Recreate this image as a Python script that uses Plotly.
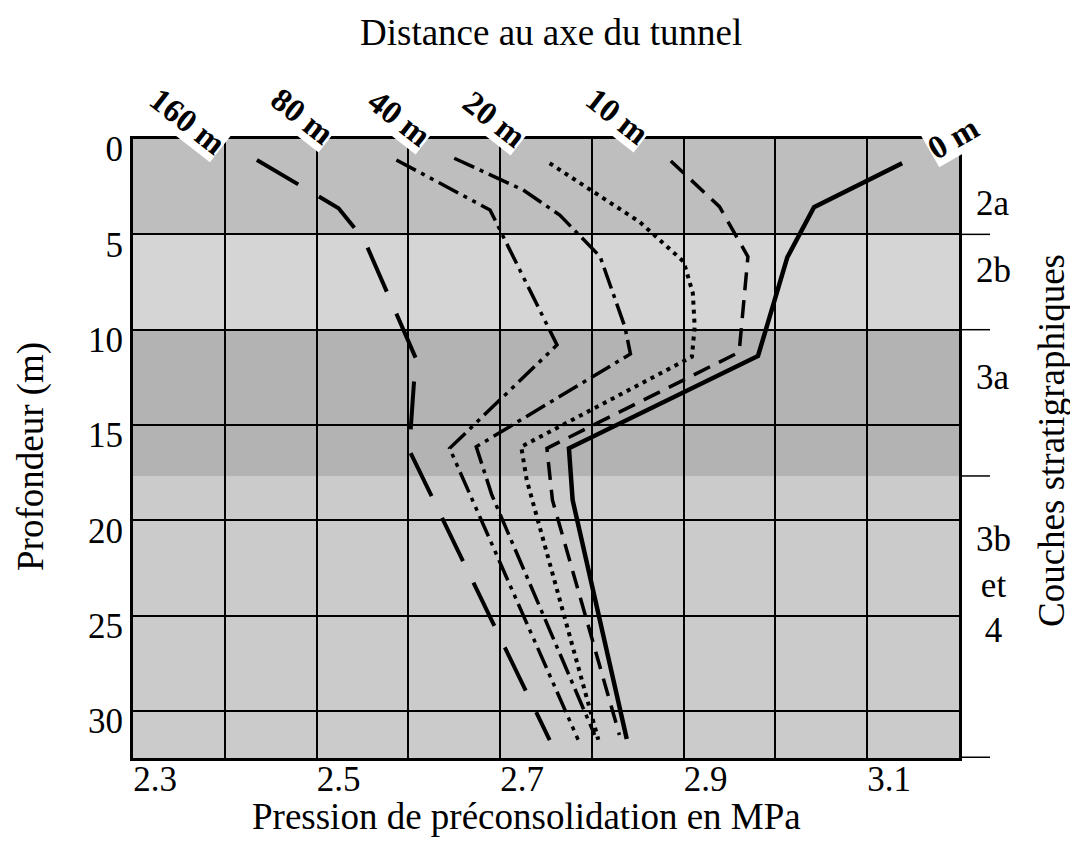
import plotly.graph_objects as go

# ---------------- data ----------------
distances = ["160 m", "80 m", "40 m", "20 m", "10 m", "0 m"]

p_160 = [2.435, 2.524, 2.552, 2.608, 2.601, 2.754]
z_160 = [1.10, 3.63, 5.30, 11.48, 16.31, 31.52]

p_80 = [2.587, 2.689, 2.762, 2.645, 2.785]
z_80 = [1.10, 3.72, 10.80, 16.22, 31.50]

p_40 = [2.650, 2.725, 2.765, 2.809, 2.836, 2.842, 2.674, 2.691, 2.803]
z_40 = [1.01, 2.67, 3.99, 6.17, 9.86, 11.27, 16.14, 18.67, 31.25]

p_20 = [2.754, 2.852, 2.900, 2.910, 2.912, 2.909, 2.723, 2.729, 2.807]
z_20 = [1.27, 4.35, 6.43, 8.09, 9.84, 11.42, 16.14, 17.88, 31.50]

p_10 = [2.886, 2.939, 2.970, 2.961, 2.958, 2.751, 2.757, 2.830]
z_10 = [1.15, 3.55, 6.17, 10.89, 11.24, 16.22, 18.93, 31.25]

p_0 = [3.138, 3.042, 3.013, 2.981, 2.775, 2.779, 2.838]
z_0 = [1.27, 3.58, 6.20, 11.38, 16.22, 18.93, 31.46]

layer_names = ["2a", "2b", "3a", "3b<br>et<br>4"]
layer_top = [0, 5, 10, 17.67]
layer_bottom = [5, 10, 17.67, 32.46]

x_range = [2.3, 3.2]
y_range = [32.46, 0]

# ---------------- styles ----------------
series_p = [p_160, p_80, p_40, p_20, p_10, p_0]
series_z = [z_160, z_80, z_40, z_20, z_10, z_0]
dashes = ["48px,24px", "22px,6px,4px,6px,4px,6px", "22px,6px,4px,6px",
          "4px,5px", "18px,10px", "solid"]
widths = [4, 3.5, 3.5, 4, 3.5, 4.5]
layer_colors = ["#bebebe", "#d5d5d5", "#b3b3b3", "#cbcbcb"]
layer_label_y = [3.36, 6.87, 12.5, 23.4]

SERIF = "Liberation Serif, Times New Roman, serif"

# page: body has an 8px margin, so the figure is 8px smaller than the window
FIG_W, FIG_H = 1070, 842
ML, MR, MT, MB = 125, 119, 131, 92
W = FIG_W - ML - MR
H = FIG_H - MT - MB


def px(xs):  # screen x -> paper
    return (xs - 8 - ML) / W


def py(ys):  # screen y -> paper
    return (FIG_H - MB - (ys - 8)) / H


# top label positions (screen px) and angles
lab_pos = [(187, 121), (302, 116), (399, 118), (494, 119), (617, 116), (953, 138)]
lab_ang = [38, 38, 38, 38, 38, -30]

fig = go.Figure()
for name, p, z, d, w in zip(distances, series_p, series_z, dashes, widths):
    fig.add_trace(go.Scatter(x=p, y=z, mode="lines", name=name,
                             line=dict(color="black", width=w, dash=d),
                             showlegend=False))

shapes = []
for t, b, c in zip(layer_top, layer_bottom, layer_colors):
    shapes.append(dict(type="rect", xref="x domain", yref="y", x0=0, x1=1,
                       y0=t, y1=b, fillcolor=c, line=dict(width=0), layer="below"))
for b in layer_bottom:
    shapes.append(dict(type="line", xref="x domain", yref="y", x0=1, x1=1.0375,
                       y0=b, y1=b,
                       line=dict(color="black", width=1.5 if b != layer_bottom[-1] else 3)))

annotations = []
for name, (lx, ly), a in zip(distances, lab_pos, lab_ang):
    annotations.append(dict(text="<b>" + name + "</b>", x=px(lx), y=py(ly),
                            xref="paper", yref="paper",
                            showarrow=False, textangle=a, bgcolor="white",
                            font=dict(family=SERIF, size=33, color="black"),
                            xanchor="center", yanchor="middle", borderpad=0))
for name, y in zip(layer_names, layer_label_y):
    annotations.append(dict(text=name, x=px(993), y=y, xref="paper", yref="y",
                            showarrow=False, xanchor="center", yanchor="middle",
                            font=dict(family=SERIF, size=35, color="black")))


def title_ann(text, xs, ys, angle=0, size=37):
    return dict(text=text, x=px(xs), y=py(ys), xref="paper", yref="paper",
                showarrow=False, textangle=angle, xanchor="center", yanchor="middle",
                font=dict(family=SERIF, size=size, color="black"))


annotations.append(title_ann("Distance au axe du tunnel", 551, 33))
annotations.append(title_ann("Pression de préconsolidation en MPa", 526, 816))
annotations.append(title_ann("Profondeur (m)", 31, 457, -90))
annotations.append(title_ann("Couches stratigraphiques", 1051, 441, -90))

fig.update_layout(
    width=FIG_W, height=FIG_H,
    margin=dict(l=ML, r=MR, t=MT, b=MB),
    paper_bgcolor="white", plot_bgcolor="white",
    shapes=shapes, annotations=annotations,
    font=dict(family=SERIF, size=35, color="black"),
)

fig.update_xaxes(range=x_range, tick0=2.3, dtick=0.2, tickformat=".1f",
                 showgrid=True, gridcolor="black", gridwidth=1.5,
                 minor=dict(dtick=0.1, showgrid=True, gridcolor="black", gridwidth=1.5),
                 showline=True, linecolor="black", linewidth=3, mirror=True,
                 zeroline=False, ticks="", ticklabelshift=22, ticklabelstandoff=-12,
                 tickfont=dict(family=SERIF, size=35, color="black"))
fig.update_yaxes(range=y_range, tick0=0, dtick=5,
                 showgrid=True, gridcolor="black", gridwidth=1.5,
                 showline=True, linecolor="black", linewidth=3, mirror=True,
                 zeroline=False, ticks="", ticklabelshift=-10,
                 tickfont=dict(family=SERIF, size=35, color="black"))

fig.write_html("out.html")
